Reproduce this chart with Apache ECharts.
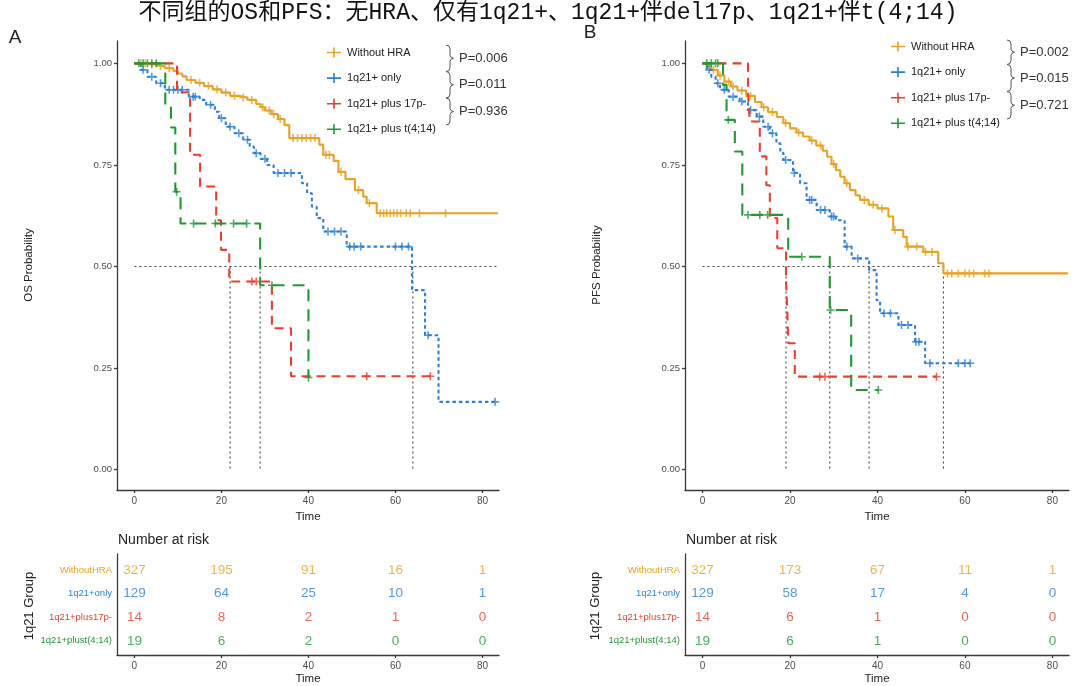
<!DOCTYPE html>
<html><head><meta charset="utf-8">
<script src="https://cdn.jsdelivr.net/npm/echarts@6/dist/echarts.min.js"></script>
<style>html,body{margin:0;padding:0;background:#fff}#c{width:1080px;height:686px}</style>
</head><body><div id="c"></div>
<script>
// ---------- data ----------
const titleText = '不同组的OS和PFS：无HRA、仅有1q21+、1q21+伴del17p、1q21+伴t(4;14)';
const groupNames = ['Without HRA', '1q21+ only', '1q21+ plus 17p-', '1q21+ plus t(4;14)'];
const riskRowLabels = ['WithoutHRA', '1q21+only', '1q21+plus17p-', '1q21+plust(4;14)'];
const groupColors = ['#E9A227', '#2C7FD6', '#E8402A', '#1F9A33'];
const timeTicks = [0, 20, 40, 60, 80];
const probTicks = [0, 0.25, 0.5, 0.75, 1];
const riskTimes = [0, 20, 40, 60, 80];
const osPValues = ['P=0.006', 'P=0.011', 'P=0.936'];
const pfsPValues = ['P=0.002', 'P=0.015', 'P=0.721'];

// OS (panel A)
const osWithoutTimes = [3,5,7,9,10,11,12,14,16,18,20,22,24,26,28,29,30,31.5,33,34.5,35.6,42.5,43.4,45.8,46.9,48.5,50.7,52.6,53.4,55.7];
const osWithoutSurv  = [0.997,0.993,0.988,0.981,0.975,0.968,0.959,0.952,0.944,0.936,0.928,0.920,0.916,0.910,0.900,0.892,0.884,0.875,0.863,0.848,0.816,0.800,0.775,0.760,0.733,0.715,0.688,0.672,0.656,0.631];
const osWithoutCensor = [1.5,2.5,4,6,8,13,15,17,19,21,23,25,27,29.5,31,32,33.5,36.5,37.5,38.5,39.5,40.5,41.5,44,44.8,47.5,51.5,54,56.5,57.3,58,58.8,59.6,60.4,61.2,62.5,63.4,65.5,71.5];
const osOnlyTimes = [1.5,3,5,7,12.5,15,16.5,18.5,19.5,21,23,25,26.5,27.5,29,30.5,32,38.5,39.7,40.8,41.9,43.4,48.8,63.8,66.8,69.9];
const osOnlySurv  = [0.984,0.967,0.951,0.935,0.918,0.910,0.898,0.881,0.865,0.844,0.828,0.812,0.795,0.779,0.765,0.750,0.730,0.705,0.680,0.647,0.619,0.586,0.549,0.442,0.331,0.167];
const osOnlyCensor = [2,4,6,8,9,10,11,13.5,14,17.5,20,22,24,26,28,30,33,34.5,36,44.5,46,47.5,49.5,50.5,52,60,61.5,63,67.5,82.9];
const os17pTimes = [9.8,12.8,15.1,18.8,19.9,21.8,31.6,36.0];
const os17pSurv  = [0.929,0.775,0.697,0.614,0.541,0.463,0.348,0.230];
const os17pCensor = [27,28,53.4,68];
const osT414Times = [7.1,8.4,9.4,10.6,28.9,40.0];
const osT414Surv  = [0.895,0.842,0.684,0.606,0.454,0.227];
const osT414Censor = [1,2,3,4,5,9.7,13.6,18.6,22.8,25.8,31.6,40.0];
const osEnds = [83.6, 82.9, 68, 40];
const osMedians = [22.0, 28.9, 64.0];
const osMedianLineEnd = 83.6;
const osRiskWithout = [327,195,91,16,1];
const osRiskOnly = [129,64,25,10,1];
const osRisk17p = [14,8,2,1,0];
const osRiskT414 = [19,6,2,0,0];

// PFS (panel B)
const pfsWithoutTimes = [1,2,3.5,5,6.5,8,10,12,13.5,15,17,18.5,20,21.5,23,24.5,26,27.5,28.5,29.5,30.5,31.5,32.5,33.7,35,36,38,40,42.5,43.6,45.9,46.7,50.5,53.9,55.1];
const pfsWithoutSurv  = [0.994,0.984,0.970,0.955,0.943,0.933,0.920,0.905,0.892,0.880,0.868,0.853,0.840,0.830,0.820,0.810,0.798,0.785,0.770,0.752,0.737,0.721,0.705,0.688,0.675,0.664,0.652,0.643,0.623,0.590,0.573,0.549,0.536,0.508,0.483];
const pfsWithoutCensor = [2.5,4,6,7,9,11,14,16,19,22,25,27,30,33,37,39,41,44,47,49,51,52.5,56,57,58.5,60,61,62,64.5,65.5];
const pfsOnlyTimes = [1,2,3,4,6,8.5,10.4,12.4,13.9,15.4,16.9,17.8,18.5,20.7,22.3,23.8,26.1,29.1,30.5,32.5,34.1,38.1,39.8,40.6,44.8,48.6,50.9];
const pfsOnlySurv  = [0.984,0.967,0.951,0.935,0.918,0.906,0.885,0.869,0.844,0.828,0.803,0.780,0.762,0.730,0.705,0.664,0.639,0.623,0.614,0.549,0.520,0.491,0.417,0.385,0.356,0.315,0.262];
const pfsOnlyCensor = [1.5,3.5,5,7,9,11,13,15,16,19,21,24.5,25,27,28,29.5,30,33,35.5,41.5,43,45.5,47,48.8,49.5,52,58.5,60,61.2];
const pfs17pTimes = [10.4,10.8,13.1,14.6,15.4,17.1,19.1,19.4,19.6,21.1];
const pfs17pSurv  = [0.929,0.857,0.771,0.700,0.619,0.545,0.464,0.387,0.311,0.229];
const pfs17pCensor = [26.8,28,53.5];
const pfsT414Times = [4.7,5.5,7.4,9.1,19.6,29.1,34.0];
const pfsT414Surv  = [0.947,0.861,0.783,0.627,0.524,0.393,0.196];
const pfsT414Censor = [1,2,3,3.5,5.9,10.4,13.1,14.9,22.7,29.3,40.2];
const pfsEnds = [83.6, 61.2, 53.5, 40.2];
const pfsMedians = [19.1, 29.1, 38.1, 55.1];
const pfsMedianLineEnd = 55.1;
const pfsRiskWithout = [327,173,67,11,1];
const pfsRiskOnly = [129,58,17,4,0];
const pfsRisk17p = [14,6,1,0,0];
const pfsRiskT414 = [19,6,1,0,0];

// ---------- build ----------
const FONT = 'Liberation Sans, Arial, sans-serif';
const panels = [
  { groups: [[osWithoutTimes, osWithoutSurv, osWithoutCensor],[osOnlyTimes, osOnlySurv, osOnlyCensor],[os17pTimes, os17pSurv, os17pCensor],[osT414Times, osT414Surv, osT414Censor]],
    ends: osEnds, medians: osMedians, hEnd: osMedianLineEnd, risk: [osRiskWithout, osRiskOnly, osRisk17p, osRiskT414] },
  { groups: [[pfsWithoutTimes, pfsWithoutSurv, pfsWithoutCensor],[pfsOnlyTimes, pfsOnlySurv, pfsOnlyCensor],[pfs17pTimes, pfs17pSurv, pfs17pCensor],[pfsT414Times, pfsT414Surv, pfsT414Censor]],
    ends: pfsEnds, medians: pfsMedians, hEnd: pfsMedianLineEnd, risk: [pfsRiskWithout, pfsRiskOnly, pfsRisk17p, pfsRiskT414] }
];
function stepData(times, surv, end) {
  const d = [[0, 1]];
  times.forEach((t, i) => d.push([t, surv[i]]));
  d.push([end, surv.length ? surv[surv.length - 1] : 1]);
  return d;
}
function survAt(times, surv, t) {
  let s = 1;
  for (let i = 0; i < times.length; i++) if (times[i] <= t) s = surv[i];
  return s;
}
const dashes = ['solid', [3.5, 3], [9, 6], [12, 8]];
const plusSymbol = 'path://M3.2,0H4.8V8H3.2ZM0,3.2H8V4.8H0Z';
const legendIcon = 'path://M0,4.2H14V5.8H0ZM6.2,0H7.8V10H6.2Z';

const series = [];
panels.forEach((P, p) => {
  P.medians.forEach(m => {
    series.push({ type: 'line', xAxisIndex: p, yAxisIndex: p, data: [[m, 0.5], [m, 0]], symbol: 'none', silent: true, z: 1,
      lineStyle: { color: '#444', width: 1.1, type: [2, 3] } });
  });
  series.push({ type: 'line', xAxisIndex: p, yAxisIndex: p, data: [[0, 0.5], [P.hEnd, 0.5]], symbol: 'none', silent: true, z: 1,
    lineStyle: { color: '#444', width: 1.1, type: [2, 3] } });
  P.groups.forEach((G, g) => {
    const [times, surv, cens] = G;
    series.push({ type: 'line', name: groupNames[g], xAxisIndex: p, yAxisIndex: p, step: 'end', symbol: 'none', silent: true,
      data: stepData(times, surv, P.ends[g]), z: 3 + g,
      itemStyle: { color: groupColors[g] }, lineStyle: { color: groupColors[g], width: 2.1, type: dashes[g] } });
    series.push({ type: 'scatter', name: groupNames[g], xAxisIndex: p, yAxisIndex: p, symbol: plusSymbol, symbolSize: 8, silent: true,
      data: cens.map(t => [t, survAt(times, surv, t)]), z: 3 + g, itemStyle: { color: groupColors[g] } });
    series.push({ type: 'scatter', xAxisIndex: p + 2, yAxisIndex: p + 2, symbolSize: 1, silent: true,
      itemStyle: { color: 'transparent' },
      data: riskTimes.map((t, k) => [t, g, P.risk[g][k]]),
      label: { show: true, position: 'inside', formatter: pr => String(pr.value[2]), color: groupColors[g], fontSize: 13.5, fontFamily: FONT } });
  });
});

const axisLineStyle = { color: '#3a3a3a', width: 1.3 };
function mainX(p) {
  return { gridIndex: p, type: 'value', min: -4, max: 83.8,
    axisLine: { show: true, onZero: false, lineStyle: axisLineStyle },
    axisTick: { show: true, customValues: timeTicks, length: 3, lineStyle: axisLineStyle },
    axisLabel: { customValues: timeTicks, color: '#4d4d4d', fontSize: 10, margin: 6, fontFamily: FONT },
    splitLine: { show: false },
    name: 'Time', nameLocation: 'middle', nameGap: 17, nameTextStyle: { fontSize: 11.5, color: '#222', fontFamily: FONT } };
}
function mainY(p) {
  return { gridIndex: p, type: 'value', min: -0.05, max: 1.055,
    axisLine: { show: true, onZero: false, lineStyle: axisLineStyle },
    axisTick: { show: true, customValues: probTicks, length: 3, lineStyle: axisLineStyle },
    axisLabel: { customValues: probTicks, formatter: v => Number(v).toFixed(2), color: '#4d4d4d', fontSize: 9.5, margin: 5, fontFamily: FONT },
    splitLine: { show: false } };
}
function riskX(p) {
  const a = mainX(p + 2);
  a.nameGap = 18;
  return a;
}
const richRows = {};
groupColors.forEach((c, i) => { richRows['g' + i] = { color: c, fontSize: 9.5, fontFamily: FONT }; });
function riskY(p) {
  return { gridIndex: p + 2, type: 'value', inverse: true, min: -0.686, max: 3.6,
    axisLine: { show: true, onZero: false, lineStyle: axisLineStyle },
    axisTick: { show: false },
    axisLabel: { customValues: [0, 1, 2, 3], formatter: v => '{g' + v + '|' + riskRowLabels[v] + '}', rich: richRows, margin: 5 },
    splitLine: { show: false } };
}

function braces(x, spans, texts, tx) {
  const els = [];
  spans.forEach((s, i) => {
    const [a, b] = s, m = (a + b) / 2;
    els.push({ type: 'polyline', silent: true, shape: { points: [[x - 4, a], [x - 1, a + 1], [x, a + 4], [x, m - 3], [x + 1, m - 1], [x + 3.5, m], [x + 1, m + 1], [x, m + 3], [x, b - 4], [x - 1, b - 1], [x - 4, b]] },
      style: { stroke: '#555', lineWidth: 1, fill: null } });
    els.push({ type: 'text', silent: true, x: tx, y: m, style: { text: texts[i], font: '13px ' + FONT, fill: '#333', textAlign: 'left', textVerticalAlign: 'middle' } });
  });
  return els;
}

function txt(x, y, text, font, fill, rot, align) {
  return { type: 'text', silent: true, x: x, y: y, rotation: rot || 0,
    style: { text: text, font: font, fill: fill, textAlign: align || 'center', textVerticalAlign: 'middle' } };
}

const graphics = [
  txt(548, 13, titleText, '23px "Liberation Mono", "Noto Sans CJK SC", monospace', '#111'),
  txt(15, 38, 'A', '19px ' + FONT, '#222'),
  txt(590, 33, 'B', '19px ' + FONT, '#222'),
  txt(29, 265, 'OS Probability', '11.5px ' + FONT, '#222', Math.PI / 2),
  txt(597, 265, 'PFS Probability', '11.5px ' + FONT, '#222', Math.PI / 2),
  txt(118, 540, 'Number at risk', '14px ' + FONT, '#222', 0, 'left'),
  txt(686, 540, 'Number at risk', '14px ' + FONT, '#222', 0, 'left'),
  txt(29, 606, '1q21 Group', '13px ' + FONT, '#222', Math.PI / 2),
  txt(595, 606, '1q21 Group', '13px ' + FONT, '#222', Math.PI / 2)
].concat(
  braces(450, [[45, 71.5], [71.5, 98], [98, 125]], osPValues, 459),
  braces(1011, [[40, 64.5], [64.5, 91.5], [91.5, 119]], pfsPValues, 1020)
);

function legendCfg(left, top) {
  return { orient: 'vertical', left: left, top: top, itemWidth: 14, itemHeight: 10, itemGap: 11.6, selectedMode: false,
    data: groupNames.map((n, i) => ({ name: n, icon: legendIcon, itemStyle: { color: groupColors[i], borderWidth: 0 } })),
    lineStyle: { width: 0, opacity: 0 },
    textStyle: { fontSize: 11, color: '#222', lineHeight: 14, fontFamily: FONT, padding: [0, 0, 0, 1] } };
}

const option = {
  animation: false,
  backgroundColor: '#fff',
  grid: [
    { left: 117, top: 41, width: 382, height: 449 },
    { left: 685, top: 41, width: 384, height: 449 },
    { left: 117, top: 554, width: 382, height: 104 },
    { left: 685, top: 554, width: 384, height: 104 }
  ],
  xAxis: [mainX(0), mainX(1), riskX(0), riskX(1)],
  yAxis: [mainY(0), mainY(1), riskY(0), riskY(1)],
  legend: [legendCfg(322, 40.5), legendCfg(886, 34.5)],
  graphic: graphics,
  series: series
};
const chart = echarts.init(document.getElementById('c'), null, { renderer: 'canvas' });
chart.setOption(option);
</script></body></html>
